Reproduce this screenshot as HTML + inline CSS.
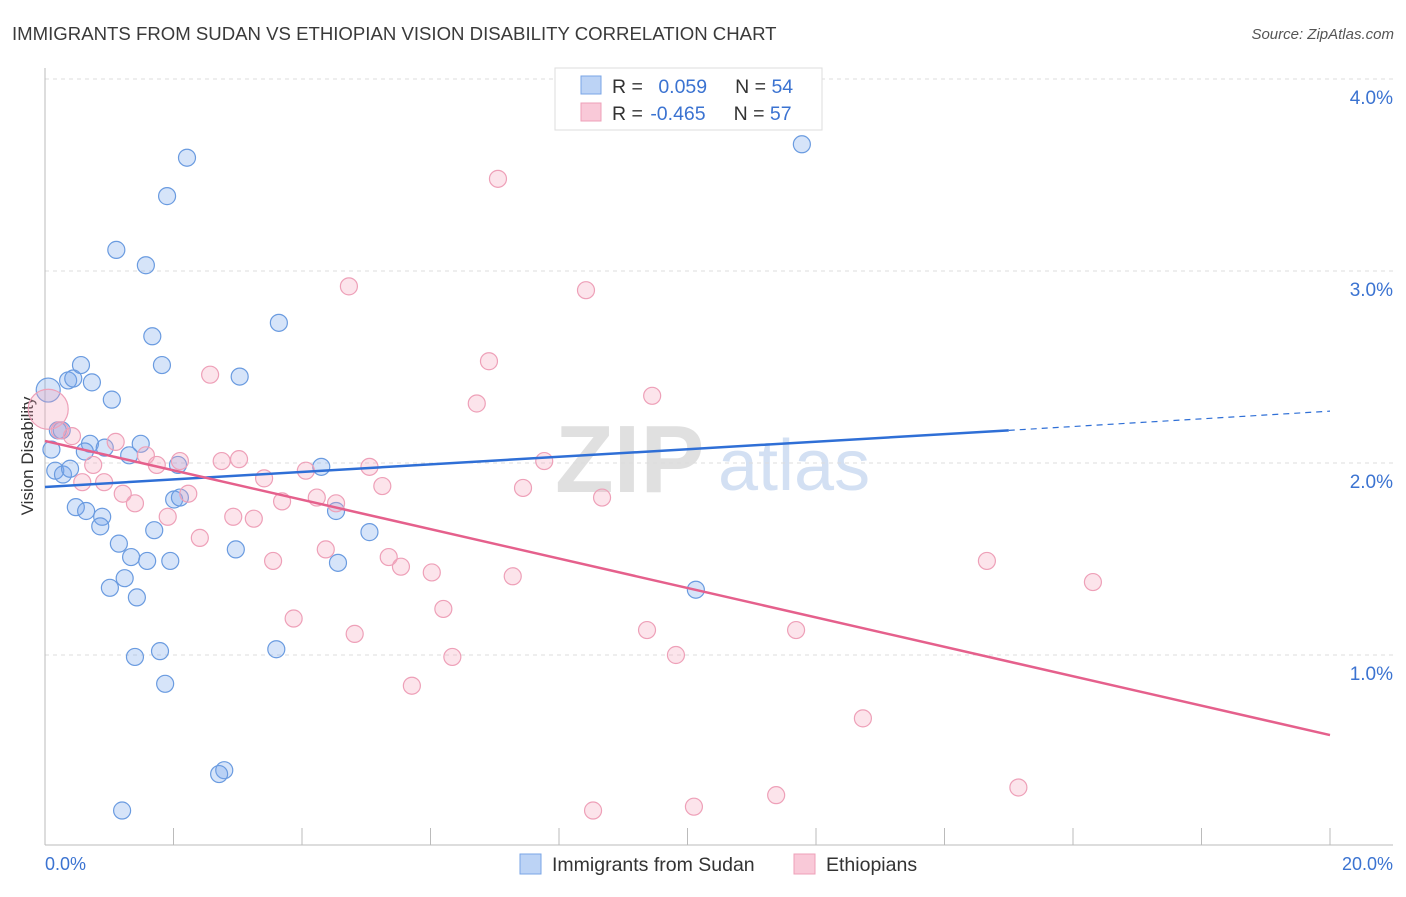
<!DOCTYPE html>
<html><head><meta charset="utf-8"><style>
body{margin:0;background:#fff;font-family:"Liberation Sans",sans-serif}
svg text{font-family:"Liberation Sans",sans-serif}
</style></head><body>
<svg id="chart" width="1406" height="892" viewBox="0 0 1406 892" xmlns="http://www.w3.org/2000/svg">
<text x="12" y="40" font-size="18.6" fill="#3a3a3a">IMMIGRANTS FROM SUDAN VS ETHIOPIAN VISION DISABILITY CORRELATION CHART</text>
<text x="1394" y="39" font-size="15" fill="#555" font-style="italic" text-anchor="end">Source: ZipAtlas.com</text>
<g>
<text x="555" y="492" font-size="96" font-family="Liberation Serif" fill="#e0e0e0" font-weight="bold">ZIP</text>
<text x="718" y="490" font-size="72" fill="#d3e0f3">atlas</text>
</g>
<g id="grid"></g>
<line x1="45" y1="68" x2="45" y2="845" stroke="#bbb"/>
<line x1="45" y1="845" x2="1393" y2="845" stroke="#bbb"/>
<g id="xticks"></g>
<text x="45" y="870" font-size="18" fill="#3b73d1">0.0%</text>
<text x="1393" y="870" font-size="18" fill="#3b73d1" text-anchor="end">20.0%</text>
<text transform="translate(33,456) rotate(-90)" font-size="17" fill="#333" text-anchor="middle">Vision Disability</text>
<g id="pts"></g>
<g id="lines"></g>
<g>
<rect x="555" y="68" width="267" height="62" fill="#fff" stroke="#ddd"/>
<rect x="581" y="76" width="20" height="18" fill="#bcd3f5" stroke="#7aa5e6"/>
<rect x="581" y="103" width="20" height="18" fill="#f9c9d8" stroke="#eea0b8"/>
<text x="612" y="93" font-size="19.5" fill="#333">R = <tspan fill="#3b73d1" dx="10">0.059</tspan><tspan dx="28" fill="#333">N = </tspan><tspan fill="#3b73d1">54</tspan></text>
<text x="612" y="120" font-size="19.5" fill="#333">R = <tspan fill="#3b73d1" dx="2">-0.465</tspan><tspan dx="28" fill="#333">N = </tspan><tspan fill="#3b73d1">57</tspan></text>
</g>
<g>
<rect x="520" y="854" width="21" height="20" fill="#bcd3f5" stroke="#7aa5e6"/>
<text x="552" y="871" font-size="19.5" fill="#333">Immigrants from Sudan</text>
<rect x="794" y="854" width="21" height="20" fill="#f9c9d8" stroke="#eea0b8"/>
<text x="826" y="871" font-size="19.5" fill="#333">Ethiopians</text>
</g>
</svg>
<script>
const yTicks=[1,2,3,4];
const yTickLabels=["1.0%","2.0%","3.0%","4.0%"];
const xTicks=[2,4,6,8,10,12,14,16,18,20];
const sudanX=[0.05,0.1,0.16,0.28,0.39,0.36,0.44,0.56,0.73,1.04,0.2,0.26,0.70,0.62,0.93,1.31,1.49,2.07,0.48,0.64,0.89,0.86,1.15,1.34,1.24,1.01,1.43,1.59,1.95,1.70,2.01,2.10,1.40,1.79,1.87,2.97,3.03,3.64,4.30,4.53,4.56,5.05,3.60,2.79,2.71,1.20,2.21,1.90,1.11,1.57,1.67,1.82,10.13,11.78];
const sudanY=[2.38,2.07,1.96,1.94,1.97,2.43,2.44,2.51,2.42,2.33,2.17,2.17,2.10,2.06,2.08,2.04,2.10,1.99,1.77,1.75,1.72,1.67,1.58,1.51,1.40,1.35,1.30,1.49,1.49,1.65,1.81,1.82,0.99,1.02,0.85,1.55,2.45,2.73,1.98,1.75,1.48,1.64,1.03,0.40,0.38,0.19,3.59,3.39,3.11,3.03,2.66,2.51,1.34,3.66];
const ethX=[0.05,0.23,0.42,0.75,0.58,0.92,1.10,1.21,1.40,1.57,1.74,1.91,2.10,2.23,2.41,2.57,2.75,3.02,2.93,3.25,3.41,3.69,3.55,3.87,4.06,4.23,4.53,4.37,4.73,4.82,5.05,5.25,5.35,5.54,5.71,6.02,6.20,6.34,6.72,6.91,7.05,7.28,7.44,7.77,8.42,8.53,8.67,9.37,9.45,9.82,10.10,11.38,11.69,12.73,14.66,15.15,16.31];
const ethY=[2.28,2.17,2.14,1.99,1.90,1.90,2.11,1.84,1.79,2.04,1.99,1.72,2.01,1.84,1.61,2.46,2.01,2.02,1.72,1.71,1.92,1.80,1.49,1.19,1.96,1.82,1.79,1.55,2.92,1.11,1.98,1.88,1.51,1.46,0.84,1.43,1.24,0.99,2.31,2.53,3.48,1.41,1.87,2.01,2.90,0.19,1.82,1.13,2.35,1.00,0.21,0.27,1.13,0.67,1.49,0.31,1.38];
const sudanTrend=[1.875,2.17,2.27];
const ethTrend=[2.115,0.583];
const NS="http://www.w3.org/2000/svg";
const sx=v=>45+v/20*1285;
const sy=v=>847-v*192;
function mk(tag,attrs,parent){const e=document.createElementNS(NS,tag);for(const k in attrs)e.setAttribute(k,attrs[k]);document.getElementById(parent).appendChild(e);return e;}
yTicks.forEach((t,i)=>{
 const l=mk('line',{x1:45,x2:1393,y1:sy(t),y2:sy(t),stroke:'#ddd','stroke-dasharray':'4,4'},'grid');
 
 
 const tx=mk('text',{x:1393,y:sy(t)+25,'font-size':19,fill:'#3b73d1','text-anchor':'end'},'grid');
 tx.textContent=yTickLabels[i];
 
 
});
xTicks.forEach(t=>{
 const l=mk('line',{x1:sx(t),x2:sx(t),y1:828,y2:845,stroke:'#bbb'},'xticks');
 
 
});
sudanX.forEach((v,i)=>{
 const c=mk('circle',{cx:sx(v),cy:sy(sudanY[i]),r:i===0?12:8.5,fill:'rgba(120,165,235,0.3)',stroke:'#6a9be0','stroke-width':1.2},'pts');
 
 
});
ethX.forEach((v,i)=>{
 const c=mk('circle',{cx:sx(v),cy:sy(ethY[i]),r:i===0?20:8.5,fill:'rgba(245,165,190,0.3)',stroke:'#eea0b8','stroke-width':1.2},'pts');
 
 
});
const b1=mk('line',{x1:sx(0),y1:sy(sudanTrend[0]),x2:sx(15),y2:sy(sudanTrend[1]),stroke:'#2f6fd6','stroke-width':2.5},'lines');


const b2=mk('line',{x1:sx(15),y1:sy(sudanTrend[1]),x2:sx(20),y2:sy(sudanTrend[2]),stroke:'#2f6fd6','stroke-width':1.2,'stroke-dasharray':'6,5'},'lines');


const p1=mk('line',{x1:sx(0),y1:sy(ethTrend[0]),x2:sx(20),y2:sy(ethTrend[1]),stroke:'#e5608c','stroke-width':2.5},'lines');


</script>
</body></html>
